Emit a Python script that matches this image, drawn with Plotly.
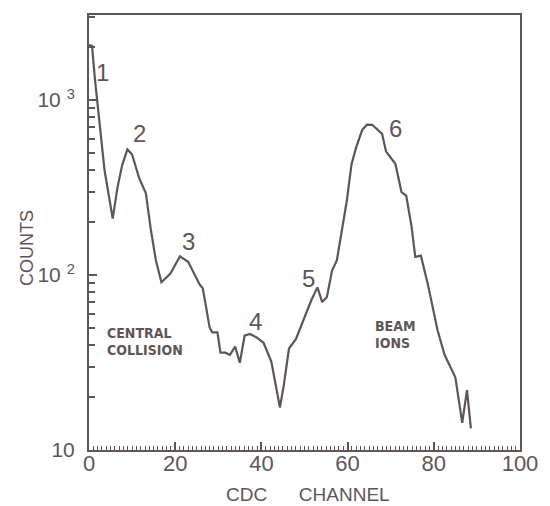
import math
import plotly.graph_objects as go

# ---- data ----
channel = [0, 0.7, 1.4, 2.5, 3.6, 5.5, 6.6, 7.7, 8.9, 10, 11.6, 13.2, 14.3, 15.5,
           16.8, 18.9, 21.1, 23, 25.7, 26.4, 28, 28.6, 29.8, 30.5, 31.6, 32.7,
           33.9, 35, 36.1, 37.3, 38.9, 40.5, 42.3, 43.4, 44.3, 45.2, 46.4, 48,
           50.2, 51.6, 53, 54.1, 55.2, 56.4, 57.5, 58.6, 59.8, 60.9, 62, 63.4,
           64.5, 65.7, 67, 68, 68.9, 71.1, 72.5, 73.6, 74.8, 75.7, 77, 78.6,
           80.9, 82.5, 85, 86.6, 87.7, 88.6]
counts = [2060, 2040, 1300, 700, 398, 210, 316, 425, 522, 488, 360, 293, 185, 122,
          91, 102, 128, 119, 88, 84, 50, 47, 47, 36, 36, 35,
          39, 31.5, 45, 46, 44, 41, 32, 23, 17.5, 23.5, 38, 43,
          59, 72, 85, 70, 75, 106, 121, 179, 264, 428, 538, 676,
          723, 722, 673, 641, 509, 431, 298, 284, 192, 127, 129, 89,
          48, 35, 26, 14.3, 22, 13.3]

peak_labels = ["1", "2", "3", "4", "5", "6"]
peak_x = [3.2, 11.6, 23.0, 38.6, 50.9, 71.1]
peak_y = [1440, 646, 155, 54.5, 96, 692]

region_lines = ["CENTRAL", "COLLISION", "BEAM", "IONS"]
region_x = [3.6, 3.6, 65.8, 65.8]
region_y = [46.6, 37.3, 51.2, 40.8]

x_tick_vals = [0, 20, 40, 60, 80, 100]
x_tick_text = ["0", "20", "40", "60", "80", "100"]
y_tick_vals = [10, 100, 1000]
y_tick_text = ["10", "10 <sup>2</sup>", "10 <sup>3</sup>"]

INK = "#5f5557"
FONT = "Liberation Sans"

y_minor = [k * 10 ** d for d in (1, 2, 3) for k in range(2, 10) if k * 10 ** d < 3100]

fig = go.Figure()
fig.add_trace(go.Scatter(x=channel, y=counts, mode="lines",
                         line=dict(color=INK, width=2.2), showlegend=False,
                         hoverinfo="skip"))

# annotations on a log axis take log10 positions
for t, x, y in zip(peak_labels, peak_x, peak_y):
    fig.add_annotation(x=x, y=math.log10(y), yref="y", xref="x", text=t,
                       showarrow=False, xanchor="center", yanchor="middle",
                       font=dict(family=FONT, size=24, color=INK))

for t, x, y in zip(region_lines, region_x, region_y):
    fig.add_annotation(x=x, y=math.log10(y), xref="x", yref="y", text=t,
                       showarrow=False, xanchor="left", yanchor="middle",
                       align="left",
                       font=dict(family="DejaVu Sans Condensed, " + FONT, size=14,
                                 color=INK, weight="bold"))

# axis titles as annotations
fig.add_annotation(xref="paper", yref="paper", x=0.507, y=-0.103,
                   xanchor="center", yanchor="middle",
                   text="CDC" + "\u00a0" * 6 + "CHANNEL", showarrow=False,
                   font=dict(family=FONT, size=19, color=INK))
fig.add_annotation(xref="paper", yref="paper", x=-0.144, y=0.464,
                   xanchor="center", yanchor="middle",
                   text="COUNTS", textangle=-90, showarrow=False,
                   font=dict(family=FONT, size=18, color=INK))

fig.update_layout(
    width=550, height=506,
    margin=dict(l=89, r=23, t=15, b=56),
    paper_bgcolor="white", plot_bgcolor="white",
    font=dict(family=FONT, color=INK),
    xaxis=dict(range=[0, 100], tickvals=x_tick_vals, ticktext=x_tick_text,
               ticks="inside", ticklen=8, tickwidth=1.5, tickcolor=INK,
               showline=True, linecolor=INK, linewidth=2, mirror=True,
               showgrid=False, zeroline=False, ticklabelstandoff=-7,
               tickfont=dict(family=FONT, size=22, color=INK),
               minor=dict(dtick=1, ticks="inside", ticklen=4, tickwidth=1.2,
                          tickcolor=INK, showgrid=False)),
    yaxis=dict(type="log", range=[1, 3.486], tickvals=y_tick_vals,
               ticktext=y_tick_text, ticks="inside", ticklen=8, tickwidth=1.5,
               tickcolor=INK, showline=True, linecolor=INK, linewidth=2,
               mirror=True, showgrid=False, zeroline=False,
               ticklabelstandoff=8,
               tickfont=dict(family=FONT, size=21, color=INK),
               minor=dict(tickvals=y_minor, ticks="inside", ticklen=6,
                          tickwidth=1.5, tickcolor=INK, showgrid=False)),
)

fig.write_html("out.html")
